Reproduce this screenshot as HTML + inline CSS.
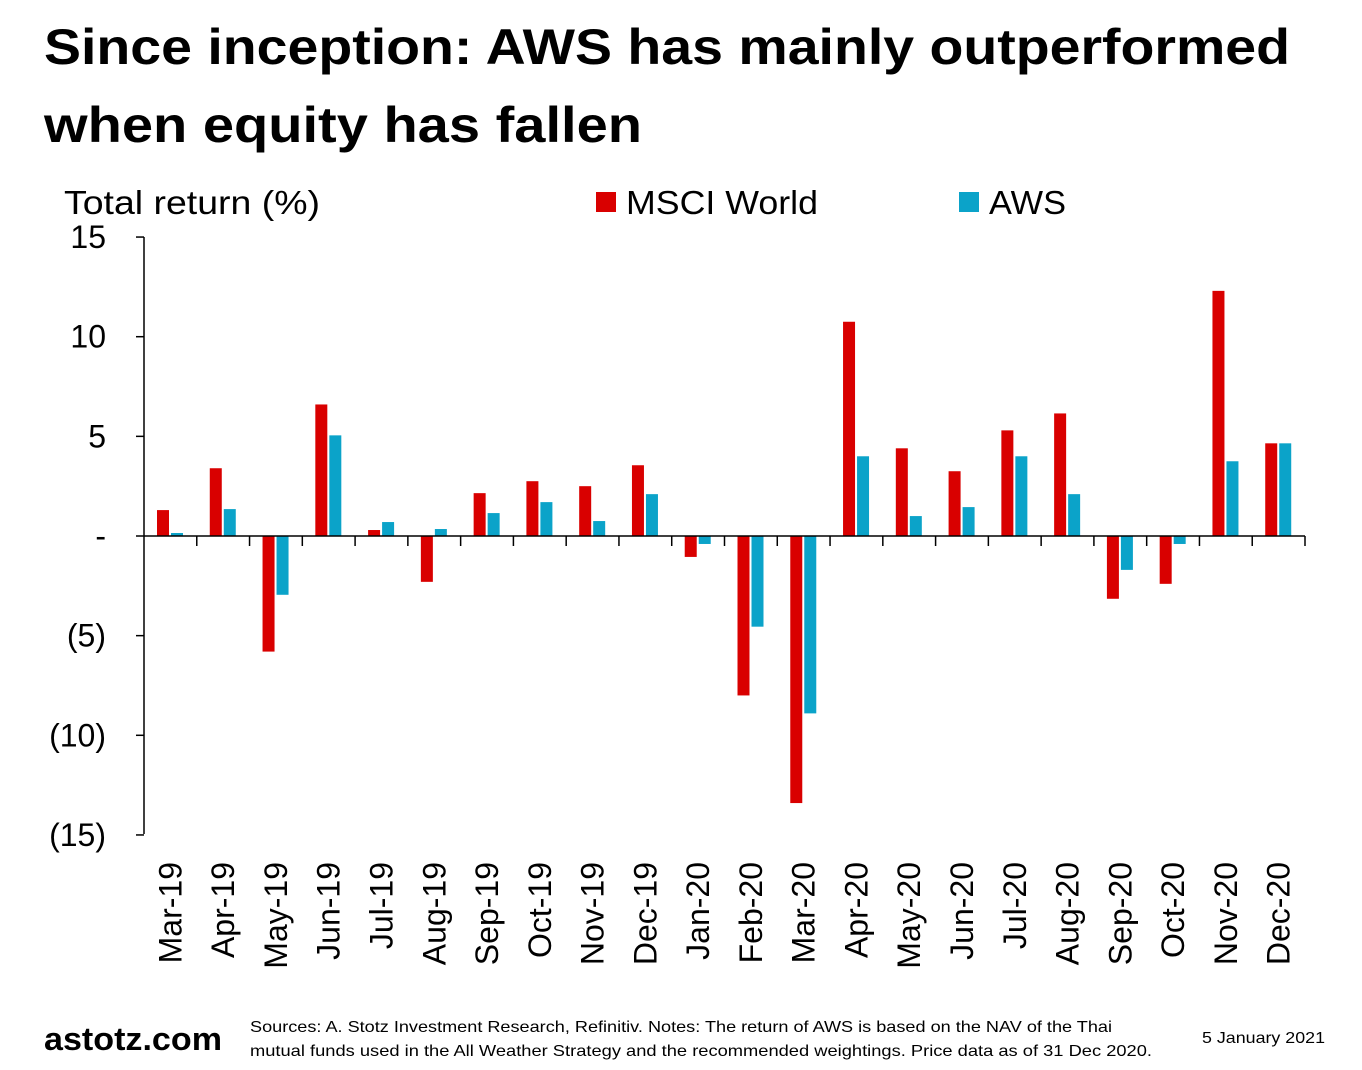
<!DOCTYPE html>
<html><head><meta charset="utf-8"><style>
html,body{margin:0;padding:0;background:#fff;}
svg{display:block;font-family:"Liberation Sans",sans-serif;}
</style></head><body>
<svg id="s" width="1362" height="1070" viewBox="0 0 1362 1070" xmlns="http://www.w3.org/2000/svg">
<text x="44" y="64" font-size="50" font-weight="bold" textLength="1246" lengthAdjust="spacingAndGlyphs">Since inception: AWS has mainly outperformed</text>
<text x="44" y="142" font-size="50" font-weight="bold" textLength="598" lengthAdjust="spacingAndGlyphs">when equity has fallen</text>
<text x="64" y="214" font-size="33" textLength="256" lengthAdjust="spacingAndGlyphs">Total return (%)</text>
<rect x="596" y="192" width="20" height="20" fill="#d90000"/>
<text x="626" y="214" font-size="33" textLength="192" lengthAdjust="spacingAndGlyphs">MSCI World</text>
<rect x="959" y="192" width="20" height="20" fill="#0ba3c9"/>
<text x="989" y="214" font-size="33" textLength="77" lengthAdjust="spacingAndGlyphs">AWS</text>
<g font-size="32" text-anchor="end" id="yl"></g>
<g id="bars"></g>
<line x1="144" y1="237" x2="144" y2="834" stroke="#000" stroke-width="1.5"/>
<line x1="144" y1="536" x2="1305" y2="536" stroke="#000" stroke-width="1.5"/>
<g id="ticks" stroke="#000" stroke-width="1.5"></g>
<g id="xl" font-size="32"></g>
<text x="44" y="1050" font-size="32" font-weight="bold" textLength="178" lengthAdjust="spacingAndGlyphs">astotz.com</text>
<text x="250" y="1032" font-size="16" textLength="862" lengthAdjust="spacingAndGlyphs">Sources: A. Stotz Investment Research, Refinitiv. Notes: The return of AWS is based on the NAV of the Thai</text>
<text x="250" y="1056" font-size="16" textLength="902" lengthAdjust="spacingAndGlyphs">mutual funds used in the All Weather Strategy and the recommended weightings. Price data as of 31 Dec 2020.</text>
<text x="1202" y="1043" font-size="16" textLength="123" lengthAdjust="spacingAndGlyphs">5 January 2021</text>
</svg>
<script>
var NS="http://www.w3.org/2000/svg";
function el(p,t,a,txt){var e=document.createElementNS(NS,t);for(var k in a)e.setAttribute(k,a[k]);if(txt!=null)e.textContent=txt;p.appendChild(e);return e;}
var cats=["Mar-19","Apr-19","May-19","Jun-19","Jul-19","Aug-19","Sep-19","Oct-19","Nov-19","Dec-19","Jan-20","Feb-20","Mar-20","Apr-20","May-20","Jun-20","Jul-20","Aug-20","Sep-20","Oct-20","Nov-20","Dec-20"];
var m=[1.3,3.4,-5.8,6.6,0.3,-2.3,2.15,2.75,2.5,3.55,-1.05,-8.0,-13.4,10.75,4.4,3.25,5.3,6.15,-3.15,-2.4,12.3,4.65];
var a=[0.15,1.35,-2.95,5.05,0.7,0.35,1.15,1.7,0.75,2.1,-0.4,-4.55,-8.9,4.0,1.0,1.45,4.0,2.1,-1.7,-0.4,3.75,4.65];
var y0=536,k=19.93,x0=144,w=(1305-144)/22;
var B=document.getElementById("bars"),T=document.getElementById("ticks"),X=document.getElementById("xl"),Y=document.getElementById("yl");
function bar(x,v,c){var h=v*k;el(B,"rect",{x:x,y:h>0?y0-h:y0,width:12,height:Math.abs(h),fill:c});}
for(var i=0;i<22;i++){var cx=x0+i*w;bar(cx+13,m[i],"#d90000");bar(cx+27,a[i],"#0ba3c9");
el(T,"line",{x1:cx+w,y1:536,x2:cx+w,y2:546});
var c=cx+w/2+11;el(X,"text",{x:0,y:0,"text-anchor":"end",transform:"translate("+c+",862) rotate(-90)"},cats[i]);}
var lab=[["15",15],["10",10],["5",5],["-",0],["(5)",-5],["(10)",-10],["(15)",-15]];
lab.forEach(function(l){var y=y0-l[1]*k;el(Y,"text",{x:106,y:y+11},l[0]);el(T,"line",{x1:136,y1:y,x2:144,y2:y});});
</script>
</body></html>
